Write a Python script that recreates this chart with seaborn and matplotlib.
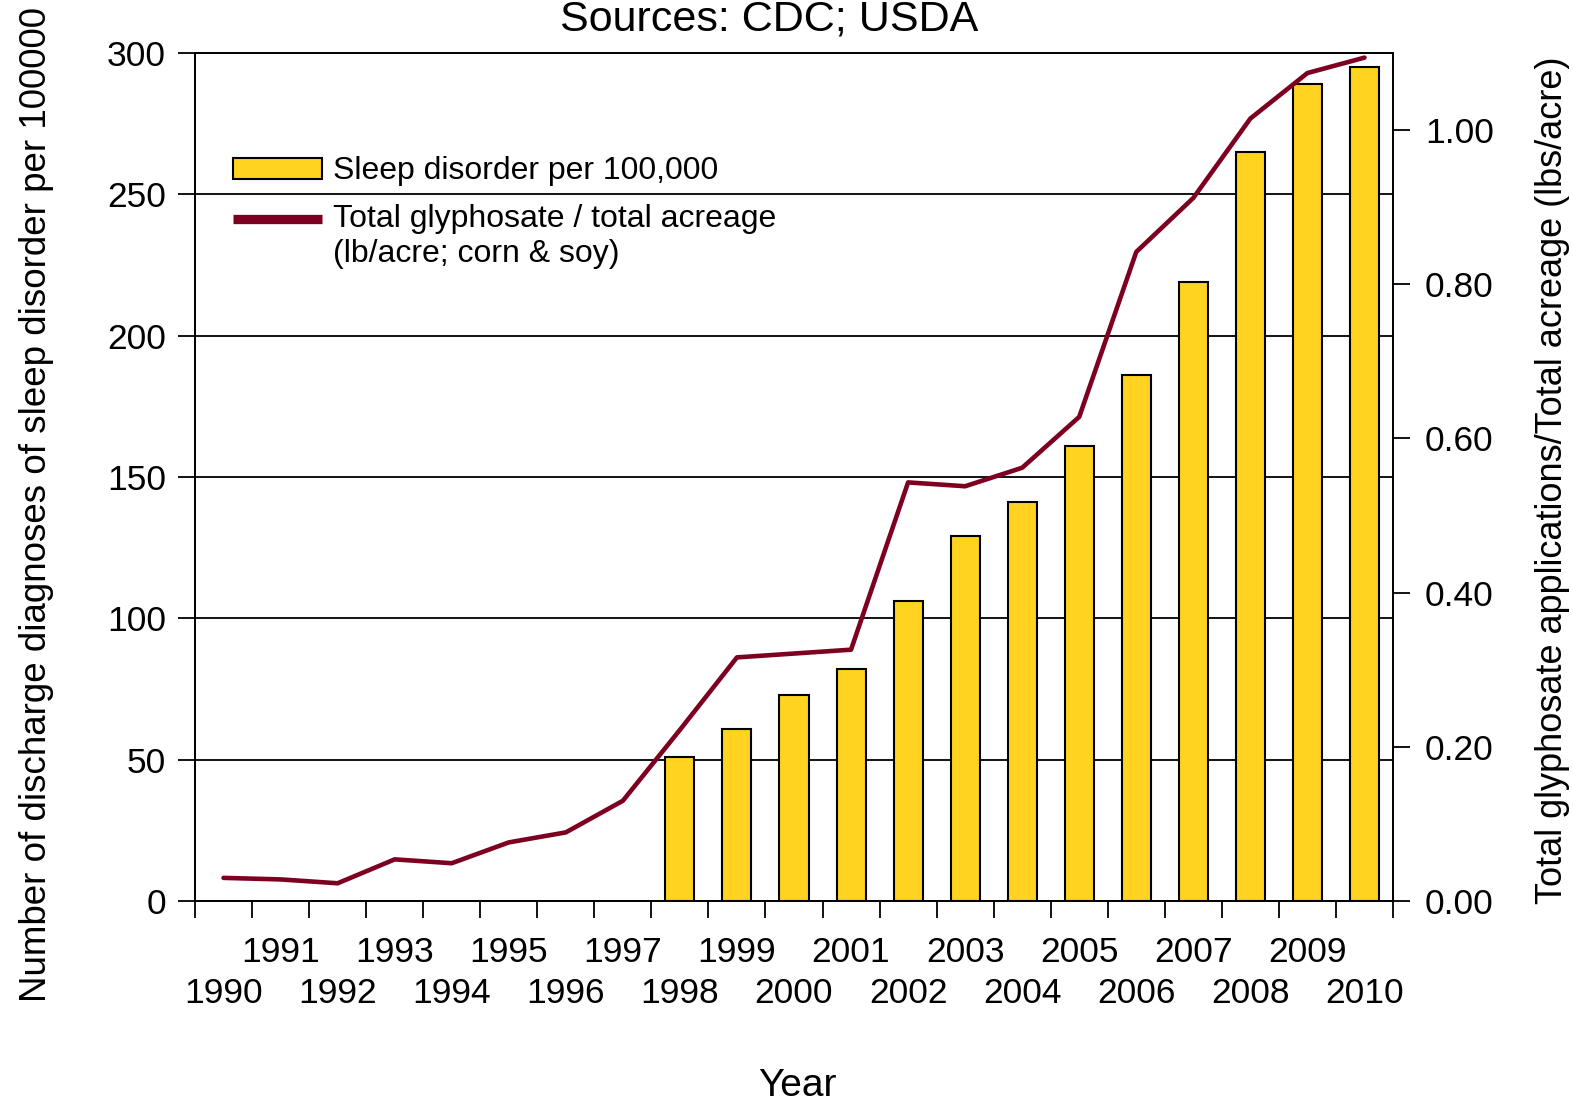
import matplotlib
matplotlib.use('Agg')
import matplotlib.pyplot as plt
import seaborn as sns
import numpy as np
import pandas as pd
from matplotlib.patches import Patch
from matplotlib.lines import Line2D
from matplotlib.legend_handler import HandlerLine2D
from matplotlib.ticker import FormatStrFormatter

# data
years = [str(y) for y in range(1990, 2011)]
bar_years = [str(y) for y in range(1998, 2011)]
sleep_disorder = [51, 61, 73, 82, 106, 129, 141, 161, 186, 219, 265, 289, 295]
glyphosate = [0.030, 0.028, 0.023, 0.054, 0.049, 0.076, 0.089, 0.130, 0.222,
              0.316, 0.321, 0.326, 0.543, 0.538, 0.562, 0.628, 0.842, 0.912,
              1.015, 1.074, 1.094]

bar_color = '#ffd320'
line_color = '#7e0021'


class RaisedLine(HandlerLine2D):
    # put the line handle next to the first line of a two-line label
    def create_artists(self, legend, orig_handle, xdescent, ydescent,
                       width, height, fontsize, trans):
        artists = super().create_artists(legend, orig_handle, xdescent,
                                         ydescent, width, height, fontsize,
                                         trans)
        for a in artists:
            a.set_ydata(np.asarray(a.get_ydata()) + 0.55 * fontsize)
        return artists


sns.set_style('ticks', {'axes.edgecolor': 'black', 'xtick.color': 'black',
                        'ytick.color': 'black', 'text.color': 'black',
                        'axes.labelcolor': 'black'})
plt.rcParams['font.family'] = ['Liberation Sans', 'DejaVu Sans']

fig = plt.figure(figsize=(15.73, 11.02), dpi=100)
ax = fig.add_axes([195 / 1573, 201 / 1102, 1198 / 1573, 848 / 1102])

df = pd.DataFrame({'year': bar_years, 'sleep': sleep_disorder})
sns.barplot(data=df, x='year', y='sleep', order=years, color=bar_color,
            saturation=1, edgecolor='black', linewidth=1.5, width=0.51, ax=ax)

ax.set_xlim(-0.5, len(years) - 0.5)
ax.set_ylim(0, 300)
ax.set_yticks(range(0, 301, 50))
ax.set_axisbelow(True)
ax.yaxis.grid(True, color='black', linewidth=1.3)
for sp in ax.spines.values():
    sp.set_linewidth(1.3)
    sp.set_visible(True)

pos = np.arange(len(years))
odd = [i for i, y in enumerate(years) if int(y) % 2]
even = [i for i, y in enumerate(years) if not int(y) % 2]

# tick marks between the years
ax.set_xticks(np.arange(-0.5, len(years), 1))
ax.set_xticklabels([])
ax.tick_params(axis='x', which='major', length=12, width=1.3)
# odd years on the upper row
ax.set_xticks(pos[odd], minor=True)
ax.set_xticklabels([years[i] for i in odd], minor=True, fontsize=25.5)
ax.tick_params(axis='x', which='minor', length=0, pad=25)
# even years on the lower row
sec = ax.secondary_xaxis('bottom')
sec.set_xticks(pos[even])
sec.set_xticklabels([years[i] for i in even], fontsize=25.5)
sec.tick_params(axis='x', length=0, pad=55)
sec.spines['bottom'].set_visible(False)

ax.tick_params(axis='y', labelsize=25.5, length=12, width=1.3, pad=9)

ax.set_xlabel('Year', fontsize=28)
ax.xaxis.set_label_coords(0.503, -0.197)
ax.set_ylabel('Number of discharge diagnoses of sleep disorder per 100000',
              fontsize=26.5, va='center')
ax.yaxis.set_label_coords(-0.132, 0.467)

ax2 = ax.twinx()
sns.lineplot(x=pos, y=glyphosate, color=line_color, linewidth=3.3, ax=ax2)
ax2.set_ylim(0, 1.1)
ax2.set_yticks(np.arange(0, 1.01, 0.2))
ax2.yaxis.set_major_formatter(FormatStrFormatter('%.2f'))
ax2.tick_params(axis='y', labelsize=25.5, length=12, width=1.3, pad=11)
ax2.set_ylabel('Total glyphosate applications/Total acreage (lbs/acre)',
               fontsize=26, va='center', rotation=90)
ax2.yaxis.set_label_coords(1.133, 0.496)
for sp in ax2.spines.values():
    sp.set_linewidth(1.3)

bar_handle = Patch(facecolor=bar_color, edgecolor='black', linewidth=1.5,
                   label='Sleep disorder per 100,000')
line_handle = Line2D([], [], color=line_color, linewidth=6.7,
                     solid_capstyle='butt',
                     label='Total glyphosate / total acreage\n(lb/acre; corn & soy)')
ax2.legend(handles=[bar_handle, line_handle], loc='upper left',
           bbox_to_anchor=(0.0317, 0.878), frameon=False, fontsize=23,
           handlelength=2.8, handleheight=0.62, handletextpad=0.34,
           borderaxespad=0, borderpad=0, labelspacing=0.55,
           handler_map={line_handle: RaisedLine()})

fig.text(769 / 1573, 1 - 31 / 1102, 'Sources: CDC; USDA', ha='center',
         va='baseline', fontsize=31)

fig.savefig('out.png', dpi=100)
